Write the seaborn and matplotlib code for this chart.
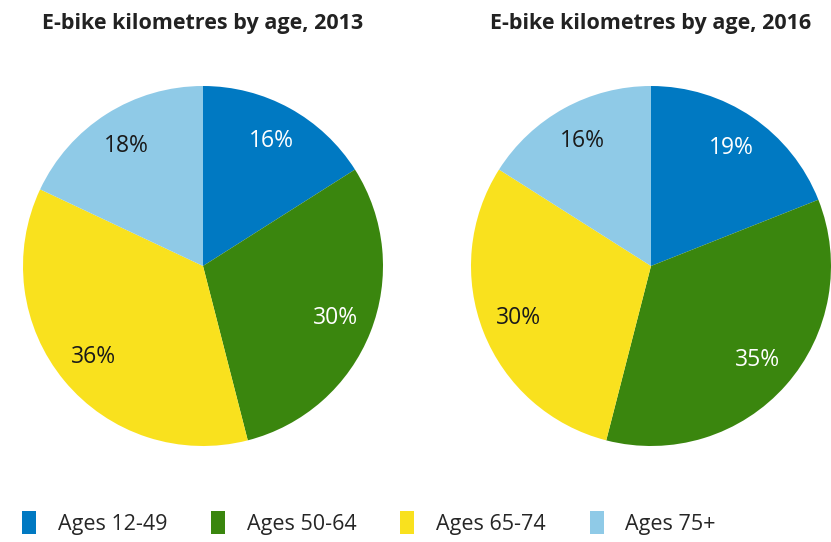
import matplotlib
matplotlib.use("Agg")
import matplotlib.pyplot as plt
from matplotlib.patches import Patch
import seaborn as sns

# data
age_groups = ["Ages 12-49", "Ages 50-64", "Ages 65-74", "Ages 75+"]
share_2013 = [16, 30, 36, 18]
share_2016 = [19, 35, 30, 16]
years = ["2013", "2016"]

colours = sns.color_palette(["#0079C2", "#3A860E", "#F9E11E", "#8FCAE7"])
label_colours = ["white", "white", "#1a1a1a", "#1a1a1a"]

sns.set_theme(style="white")
plt.rcParams["font.family"] = ["Open Sans", "DejaVu Sans"]

fig = plt.figure(figsize=(8.31, 5.42), dpi=100)

W, H = 831, 542
R = 180
centres = [(203, 266), (651, 266)]

for (cx, cy), year, shares in zip(centres, years, [share_2013, share_2016]):
    ax = fig.add_axes([(cx - R) / W, (H - cy - R) / H, 2 * R / W, 2 * R / H])
    wedges, texts, autotexts = ax.pie(
        shares, colors=colours, startangle=90, counterclock=False,
        autopct="%d%%", pctdistance=0.79, radius=1,
        wedgeprops=dict(linewidth=0),
        textprops=dict(fontsize=16.5))
    for t, c in zip(autotexts, label_colours):
        t.set_color(c)
    ax.set_xlim(-1, 1)
    ax.set_ylim(-1, 1)
    ax.set_aspect("equal")
    ax.axis("off")
    fig.text(cx / W, 1 - 24 / H, f"E-bike kilometres by age, {year}",
             ha="center", va="center", fontsize=15.5, fontweight="bold",
             color="#222222")

handles = [Patch(facecolor=c, edgecolor="none") for c in colours]
fig.legend(handles, age_groups, loc="center left", bbox_to_anchor=(0.0265, 1 - 523 / H),
           ncol=4, frameon=False, fontsize=15.5, handlelength=0.65, handleheight=1.3,
           handletextpad=1.0, columnspacing=2.05, borderaxespad=0, borderpad=0)

fig.savefig("out.png", dpi=100)
